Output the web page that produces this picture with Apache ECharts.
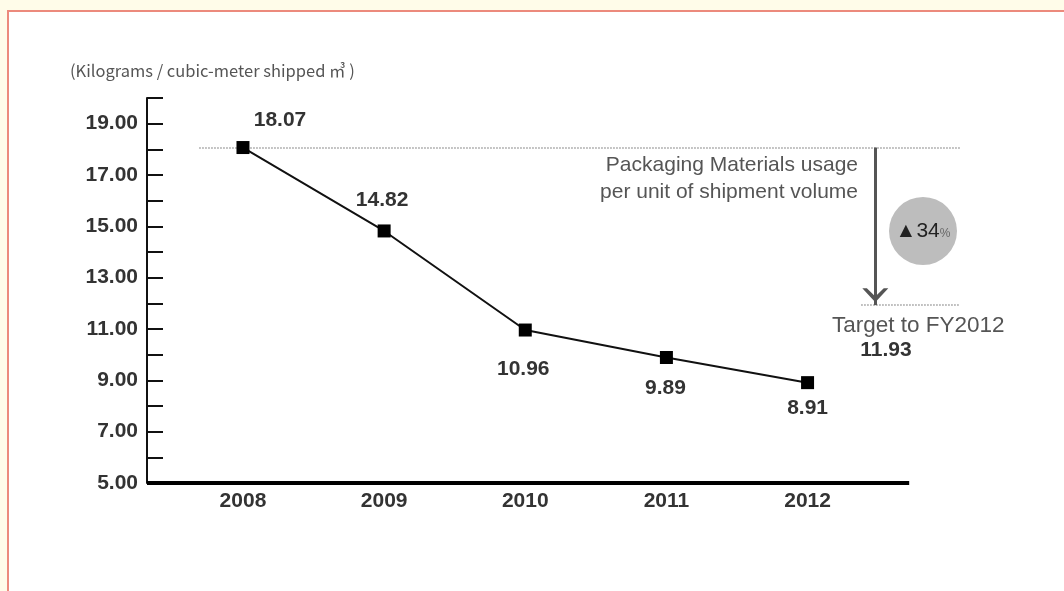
<!DOCTYPE html>
<html>
<head>
<meta charset="utf-8">
<script src="https://cdn.jsdelivr.net/npm/echarts@6/dist/echarts.min.js"></script>
<style>
  html, body { margin: 0; padding: 0; width: 1064px; height: 591px; background: #fffce9; overflow: hidden; }
  #frame { position: absolute; left: 7px; top: 10px; right: 0; bottom: 0; background: #fff;
           border-left: 2px solid #ec8a7c; border-top: 2px solid #ec8a7c; }
  #chart { position: absolute; left: 0; top: 0; width: 1064px; height: 591px; }
</style>
</head>
<body>
<div id="frame"></div>
<div id="chart"></div>
<script>
// data
var years = [2008, 2009, 2010, 2011, 2012];
var usage = [18.07, 14.82, 10.96, 9.89, 8.91];
var target = 11.93;
var reduction = 34; // %
var unitText = '(Kilograms / cubic-meter shipped ㎥ )';

// axis extent (x axis runs a bit past the last year, annotations further right)
var xMin = 2007.32, xAxisEnd = 2012.72, xMax = 2013.08;
var dotStart = 2007.69, targetLineStart = 2012.38, arrowX = 2012.48;

// label placement per point (px from the marker)
var labelOffsets = [[37, -27], [-2, -31], [-2, 39], [-1, 31], [0, 26]];

var fontNum = 'Liberation Sans, Arial, sans-serif';

var points = years.map(function (y, i) {
  return {
    value: [y, usage[i]],
    label: { offset: labelOffsets[i] }
  };
});

var chart = echarts.init(document.getElementById('chart'));
var option = {
  animation: false,
  grid: { left: 147, right: 104, top: 98, bottom: 108 },
  xAxis: {
    type: 'value',
    min: xMin,
    max: xMax,
    axisLine: { show: false },
    axisTick: { show: false },
    splitLine: { show: false },
    axisLabel: {
      customValues: years,
      margin: 8,
      color: '#333',
      fontWeight: 'bold',
      fontSize: 21,
      fontFamily: fontNum,
      formatter: function (v) { return String(Math.round(v)); }
    }
  },
  yAxis: {
    type: 'value',
    min: 5,
    max: 20,
    interval: 1,
    splitLine: { show: false },
    axisLine: { show: true, lineStyle: { color: '#111', width: 2 } },
    axisTick: { show: true, inside: true, length: 16, lineStyle: { color: '#111', width: 2 } },
    axisLabel: {
      margin: 9,
      color: '#333',
      fontWeight: 'bold',
      fontSize: 21,
      fontFamily: fontNum,
      formatter: function (v) { return v % 2 === 1 ? v.toFixed(2) : ''; }
    }
  },
  series: [{
    type: 'line',
    data: points,
    symbol: 'rect',
    symbolSize: 13,
    clip: false,
    itemStyle: { color: '#000' },
    lineStyle: { color: '#111', width: 2 },
    label: {
      show: true,
      position: 'inside',
      color: '#333',
      fontWeight: 'bold',
      fontSize: 21,
      fontFamily: fontNum,
      formatter: function (p) { return p.value[1].toFixed(2); }
    },
    emphasis: { disabled: true },
    markLine: {
      silent: true,
      z: 1,
      symbol: 'none',
      label: { show: false },
      data: [
        // x axis base line
        [{ coord: [xMin, 5], lineStyle: { color: '#000', width: 4, type: 'solid' } }, { coord: [xAxisEnd, 5] }],
        // 2008 level
        [{ coord: [dotStart, usage[0]], lineStyle: { color: '#999', width: 1.5, type: 'dotted' } }, { coord: [xMax, usage[0]] }],
        // target level
        [{ coord: [targetLineStart, target], lineStyle: { color: '#999', width: 1.5, type: 'dotted' } }, { coord: [xMax, target] }],
        // arrow down to target
        [{ coord: [arrowX, usage[0]], symbol: 'none', lineStyle: { color: '#555', width: 3, type: 'solid' } },
         { coord: [arrowX, target], symbol: 'path://M10,0 L20,10 L16.5,10 L10,4 L3.5,10 L0,10 Z', symbolSize: [26, 14], symbolOffset: [0, 10] }]
      ]
    }
  }],
  graphic: [
    { type: 'text', left: 70, top: 62,
      style: { text: unitText, fill: '#555', font: '16.5px "Noto Sans CJK JP", sans-serif' } },
    { type: 'text', x: 858, y: 152,
      style: { text: 'Packaging Materials usage\nper unit of shipment volume', align: 'right',
               fill: '#555', font: '21px "Liberation Sans", Arial, sans-serif', lineHeight: 27 } },
    { type: 'circle', shape: { cx: 923, cy: 231, r: 34 }, style: { fill: '#bdbdbd' } },
    { type: 'text', x: 923, y: 231,
      style: { text: '{a|▲' + reduction + '}{b|%}', align: 'center', verticalAlign: 'middle',
               rich: {
                 a: { fill: '#222', fontSize: 21, fontFamily: fontNum },
                 b: { fill: '#666', fontSize: 12, fontFamily: fontNum, padding: [6, 0, 0, 0] }
               } } },
    { type: 'text', x: 832, y: 326,
      style: { text: 'Target to FY2012', verticalAlign: 'middle', fill: '#555', font: '22.5px "Liberation Sans", Arial, sans-serif' } },
    { type: 'text', x: 886, y: 350,
      style: { text: target.toFixed(2), align: 'center', verticalAlign: 'middle',
               fill: '#333', font: 'bold 21px "Liberation Sans", Arial, sans-serif' } }
  ]
};
chart.setOption(option);
</script>
</body>
</html>
